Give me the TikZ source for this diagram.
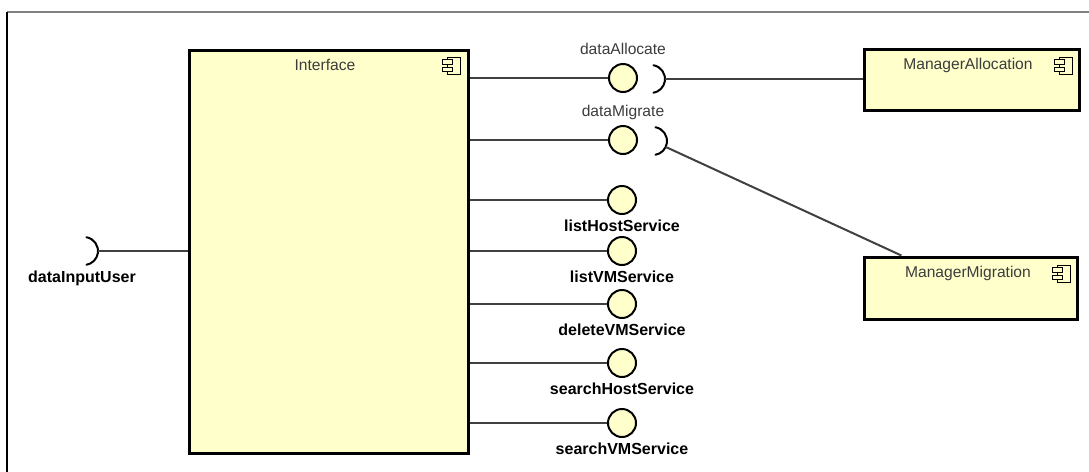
\documentclass[tikz,border=0pt]{standalone}
\usepackage{fontspec}
\setmainfont{Liberation Sans}
\usetikzlibrary{positioning,calc}

\definecolor{compfill}{RGB}{255,255,204}
\definecolor{linegray}{RGB}{64,64,64}
\definecolor{textgray}{RGB}{60,60,60}

\tikzset{
  comp/.style={rectangle, draw=black, line width=1.5pt, fill=compfill, inner sep=0pt},
  port/.style={circle, draw=black, line width=1pt, fill=compfill, minimum size=14pt, inner sep=0pt},
  conn/.style={draw=linegray, line width=1pt},
  plainlbl/.style={font=\fontsize{7.8}{9}\selectfont, text=textgray, inner sep=0pt, anchor=base},
  boldlbl/.style={font=\fontsize{8}{9}\selectfont\bfseries, text=black, inner sep=0pt, anchor=base},
  compicon/.pic={
    \draw[line width=0.5pt, fill=compfill] (-6,-8.5) rectangle (7,8.5);
    \draw[line width=0.5pt, fill=compfill] (-11,-6) rectangle (-1,-1.5);
    \draw[line width=0.5pt, fill=compfill] (-11,1.5) rectangle (-1,6);
  },
  socket/.pic={
    \coordinate (-c) at (0,0);
    \coordinate (-tip) at (0:7pt);
    \draw[line width=1pt, line cap=round] (80:7pt) arc (80:-80:7pt);
  }
}

\begin{document}
\begin{tikzpicture}[x=0.5pt, y=-0.5pt]
        \useasboundingbox (0,0) rectangle (1089,472);

        % Frame (only top and left edges are visible)
        \draw[gray, line width=0.75pt] (7,12) -- (1089,12);
        \draw[black, line width=0.75pt] (7,12) -- (7,472);

        % Components
        \node[comp, minimum width=139.5pt, minimum height=201.5pt] (iface) at (328.5,251.5) {};
        \node[comp, minimum width=107.5pt, minimum height=30.5pt] (mA) at (971.5,79.5) {};
        \node[comp, minimum width=106.5pt, minimum height=31pt] (mM) at (970.5,288) {};

        \node[plainlbl] (iface-txt) at ($(iface.north)+(-3.5,22)$) {Interface};
        \node[plainlbl] (mA-txt) at ($(mA.north)+(-3.5,22)$) {ManagerAllocation};
        \node[plainlbl] (mM-txt) at ($(mM.north)+(-2.5,22)$) {ManagerMigration};

        \pic at ($(iface.north east)+(-16,17)$) {compicon};
        \pic at ($(mA.north east)+(-15,18)$) {compicon};
        \pic at ($(mM.north east)+(-15,18)$) {compicon};

        % Required interfaces (sockets)
        \pic (sA) at (651,79) {socket};
        \pic (sM) at (653,141) {socket};
        \pic (sI) at (84,251) {socket};
        \coordinate (mMin) at ($(mM.north west)!0.18!(mM.north east)$);

        \draw[conn] (sA-tip) -- (sA-tip -| mA.west);
        \draw[conn] ($(sM-c)+(-25:7pt)$) -- (mMin);
        \draw[conn] (sI-tip) -- (sI-tip -| iface.west);
        \node[boldlbl] (sI-txt) at (82,282) {dataInputUser};

        % Provided interfaces (lollipops)
        \foreach \nm/\yy/\txt in {dA/78/dataAllocate, dM/140/dataMigrate} {
          \draw[conn] (iface.east |- 0,\yy) -- (609,\yy);
          \node[port] (\nm) at (623,\yy) {};
          \node[plainlbl] (\nm-txt) at ($(\nm)+(0,-24)$) {\txt};
        }
        \foreach \nm/\yy/\txt in {lh/200/listHostService, lv/251/listVMService,
            dv/304/deleteVMService, sh/363/searchHostService, sv/423/searchVMService} {
          \draw[conn] (iface.east |- 0,\yy) -- (608,\yy);
          \node[port] (\nm) at (622,\yy) {};
          \node[boldlbl] (\nm-txt) at ($(\nm)+(0,31)$) {\txt};
        }
\end{tikzpicture}
\end{document}
